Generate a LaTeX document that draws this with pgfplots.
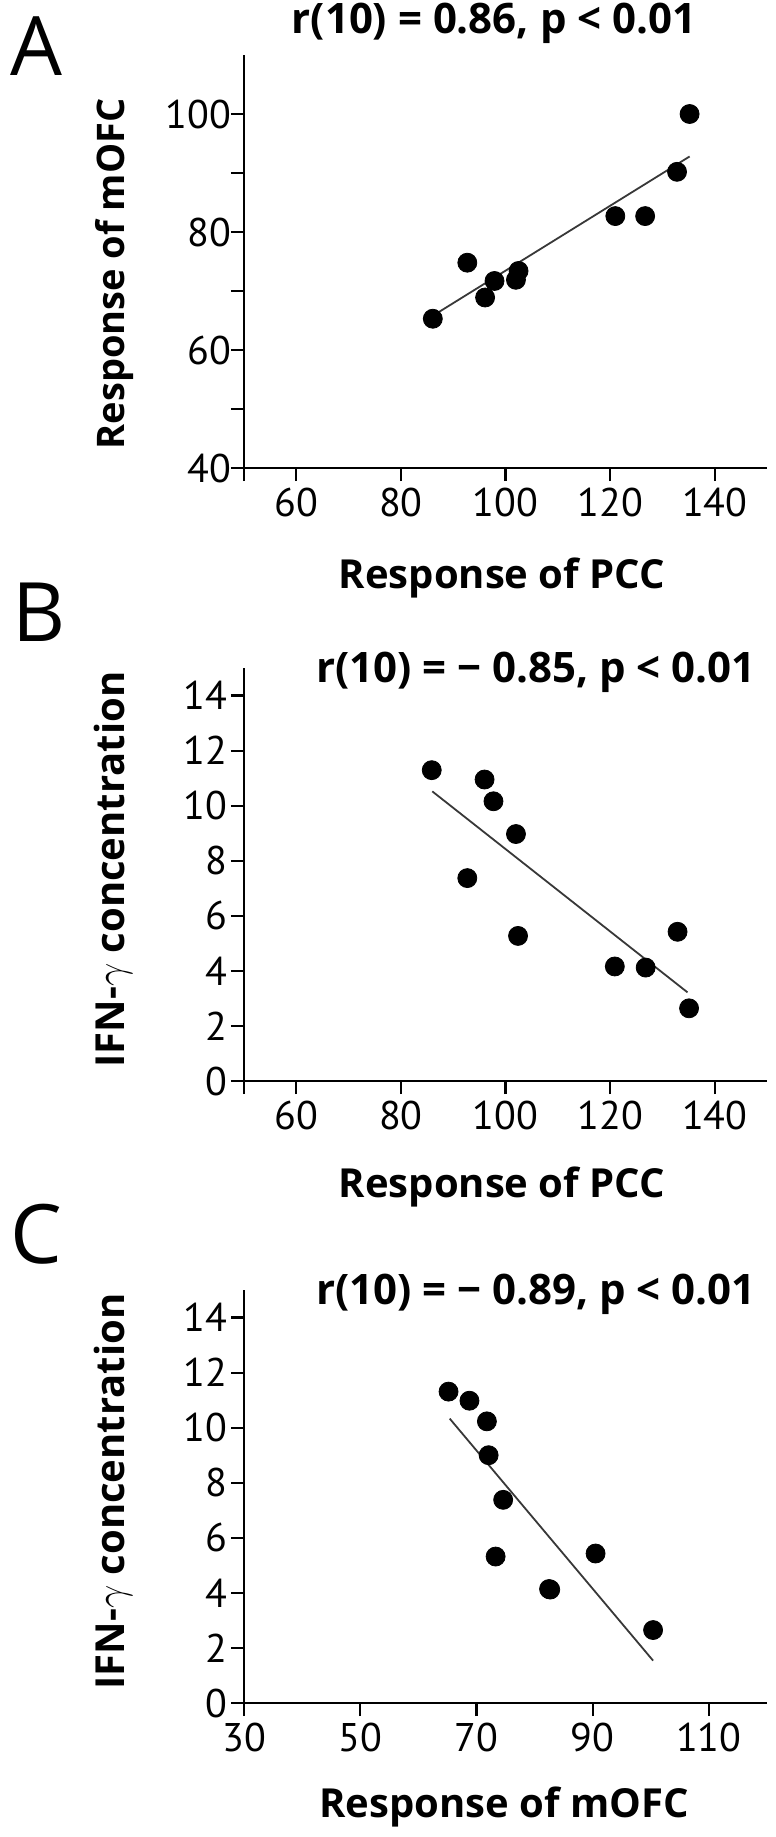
\documentclass[border=0pt]{standalone}
\usepackage{fontspec}
\setmainfont{PT Sans}
\newfontfamily\osans{Open Sans}
\usepackage{pgfplots}
\pgfplotsset{compat=1.18}
\newcommand\tickfont{\fontsize{20}{24}\selectfont}
\newcommand\labfont{\osans\fontsize{20}{24}\selectfont\bfseries}
\newcommand\labfontA{\osans\fontsize{19}{23}\selectfont\bfseries}
\newcommand\titfont{\osans\fontsize{21}{25}\selectfont\bfseries}
\newcommand\letfont{\osans\fontsize{41}{46}\selectfont}
\pgfplotsset{
  panel/.style={
    scale only axis, width=261.5pt, height=206.5pt,
    anchor=south west,
    axis lines*=left,
    axis line style={line width=1.25pt},
    tick align=outside,
    major tick length=6.5pt, minor tick length=6.5pt,
    tick style={black, line width=1.1pt},
    every tick label/.append style={font=\tickfont},
    /pgf/number format/assume math mode=true,
    clip=false,
    xlabel style={font=\labfont, anchor=base},
    ylabel style={font=\labfont, anchor=base},
    title style={font=\titfont, anchor=base, yshift=0pt},
  },
  dots/.style={only marks, mark=*, mark size=4.75pt, mark options={fill=black, draw=black}},
  fit/.style={no marks, line width=0.9pt, color=black!78},
}
\begin{document}
\begin{tikzpicture}
\useasboundingbox (0,0) rectangle (388pt,-918.5pt);
% Panel A
\begin{axis}[panel, at={(122pt,-234pt)},
  xmin=50, xmax=150, ymin=40, ymax=110,
  xtick={60,80,...,140}, minor xtick={50},
  ytick={40,60,80,100}, minor ytick={50,70,90},
  yticklabel style={xshift=3.5pt},
  xlabel={Response of PCC},
  xlabel style={at={(axis description cs:0.493,-0.291)}},
  ylabel={Response of mOFC},
  ylabel style={font=\labfontA, at={(axis description cs:-0.229,0.47)}},
  title={r(10) = 0.86, p < 0.01},
  title style={at={(axis description cs:0.478,1.024)}},
]
\addplot[dots] coordinates {(86.1,65.3) (92.7,74.8) (96.1,68.9) (97.9,71.7) (102.0,71.9) (102.5,73.4) (121.0,82.7) (126.7,82.7) (132.8,90.2) (135.2,100.0)};
\addplot[fit] coordinates {(86.1,65.8) (135.2,92.8)};
\end{axis}
% Panel B
\begin{axis}[panel, at={(122pt,-540.5pt)},
  xmin=50, xmax=150, ymin=0, ymax=15,
  xtick={60,80,...,140}, minor xtick={50},
  ytick={0,2,...,14},
  yticklabel style={xshift=1.5pt},
  xlabel={Response of PCC},
  xlabel style={at={(axis description cs:0.493,-0.282)}},
  ylabel={IFN-$\gamma$ concentration},
  ylabel style={at={(axis description cs:-0.229,0.512)}},
  title={r(10) = − 0.85, p < 0.01},
  title style={at={(axis description cs:0.558,0.937)}},
]
\addplot[dots] coordinates {(85.9,11.29) (96.0,10.95) (97.7,10.16) (102.0,8.97) (92.7,7.37) (102.4,5.27) (120.9,4.16) (126.8,4.12) (132.9,5.42) (135.1,2.64)};
\addplot[fit] coordinates {(86.0,10.52) (134.8,3.22)};
\end{axis}
% Panel C
\begin{axis}[panel, at={(122pt,-851.5pt)},
  xmin=30, xmax=120, ymin=0, ymax=15,
  xtick={30,50,...,110},
  ytick={0,2,...,14},
  yticklabel style={xshift=1.5pt},
  xlabel={Response of mOFC},
  xlabel style={at={(axis description cs:0.497,-0.277)}},
  ylabel={IFN-$\gamma$ concentration},
  ylabel style={at={(axis description cs:-0.229,0.512)}},
  title={r(10) = − 0.89, p < 0.01},
  title style={at={(axis description cs:0.558,0.937)}},
]
\addplot[dots] coordinates {(65.2,11.31) (68.8,10.98) (71.8,10.23) (72.1,9.0) (74.6,7.38) (73.3,5.32) (82.5,4.14) (82.7,4.12) (90.5,5.43) (100.4,2.65)};
\addplot[fit] coordinates {(65.4,10.33) (100.4,1.54)};
\end{axis}
\node[anchor=base west, font=\letfont, inner sep=0pt] at (5pt,-37.5pt) {A};
\node[anchor=base west, font=\letfont, inner sep=0pt] at (6pt,-320.5pt) {B};
\node[anchor=base west, font=\letfont, inner sep=0pt] at (5pt,-631.5pt) {C};
\end{tikzpicture}
\end{document}
